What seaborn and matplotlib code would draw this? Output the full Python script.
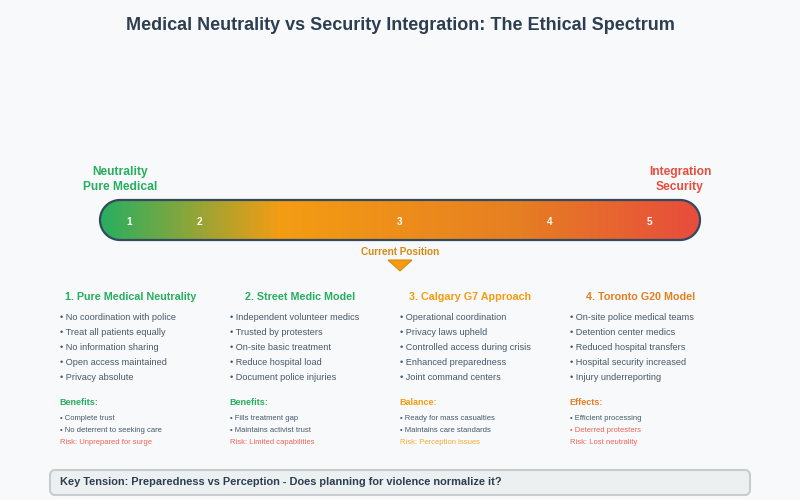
import matplotlib
matplotlib.use("Agg")
import matplotlib.pyplot as plt
from matplotlib.patches import PathPatch, Polygon
from matplotlib.path import Path
import numpy as np
import seaborn as sns

sns.set_theme(style="white")
plt.rcParams['font.family'] = ['Liberation Sans', 'DejaVu Sans']

BG = "#f8f9fa"
DARK = "#2c3e50"
BODY = "#34495e"
SOFT = "#46596b"
GREEN = "#27ae60"
ORANGE = "#f39c12"
DORANGE = "#e67e22"
RED = "#e74c3c"
SOFT_RED = "#ea6557"

title = "Medical Neutrality vs Security Integration: The Ethical Spectrum"
stop_colors = [GREEN, ORANGE, DORANGE, RED]
stop_positions = [0.0, 0.3, 0.7, 1.0]
scale_labels = ["1", "2", "3", "4", "5"]
scale_x = [129.5, 199.5, 399.5, 549.5, 649.5]

headers = ["1. Pure Medical Neutrality", "2. Street Medic Model",
           "3. Calgary G7 Approach", "4. Toronto G20 Model"]
header_colors = [GREEN, GREEN, ORANGE, DORANGE]
features = [
    ["No coordination with police", "Treat all patients equally", "No information sharing",
     "Open access maintained", "Privacy absolute"],
    ["Independent volunteer medics", "Trusted by protesters", "On-site basic treatment",
     "Reduce hospital load", "Document police injuries"],
    ["Operational coordination", "Privacy laws upheld", "Controlled access during crisis",
     "Enhanced preparedness", "Joint command centers"],
    ["On-site police medical teams", "Detention center medics", "Reduced hospital transfers",
     "Hospital security increased", "Injury underreporting"],
]
sub_heads = ["Benefits:", "Benefits:", "Balance:", "Effects:"]
sub_items = [
    ["Complete trust", "No deterrent to seeking care"],
    ["Fills treatment gap", "Maintains activist trust"],
    ["Ready for mass casualties", "Maintains care standards"],
    ["Efficient processing", "Deterred protesters"],
]
sub_item_colors = [[SOFT, SOFT], [SOFT, SOFT], [SOFT, SOFT], [SOFT, SOFT_RED]]
risks = ["Risk: Unprepared for surge", "Risk: Limited capabilities",
         "Risk: Perception issues", "Risk: Lost neutrality"]
risk_colors = [SOFT_RED, SOFT_RED, "#f5ab35", SOFT_RED]
tension = "Key Tension: Preparedness vs Perception - Does planning for violence normalize it?"

W, H = 800, 500
fig = plt.figure(figsize=(8, 5), dpi=100, facecolor=BG)
ax = fig.add_axes([0, 0, 1, 1])
ax.set_xlim(0, W)
ax.set_ylim(H, 0)
ax.axis("off")


def fs(px):
    return px * 0.72


def label(x, y, s, px, color, weight="normal", ha="left"):
    ax.text(x, y, s, fontsize=fs(px), color=color, fontweight=weight, ha=ha,
            va="baseline", zorder=5)


def round_rect(x, y, w, h, r):
    """Closed outline of a rectangle with true circular corners."""
    corners = [(x + w - r, y + r, -90), (x + w - r, y + h - r, 0),
               (x + r, y + h - r, 90), (x + r, y + r, 180)]
    pts = []
    for cx, cy, start in corners:
        t = np.radians(np.linspace(start, start + 90, 24))
        pts.extend(zip(cx + r * np.cos(t), cy + r * np.sin(t)))
    pts.append(pts[0])
    return Path(np.array(pts), closed=True)


label(400, 30, title, 18, DARK, "bold", "center")
label(120, 175, "Neutrality", 12, GREEN, "bold", "center")
label(120, 190, "Pure Medical", 12, GREEN, "bold", "center")
label(680, 175, "Integration", 12, RED, "bold", "center")
label(680, 190, "Security", 12, RED, "bold", "center")

# Gradient bar drawn as a seaborn heatmap on an axes placed over the bar
bar_ax = fig.add_axes([100 / W, 1 - 240 / H, 600 / W, 40 / H], zorder=2)
cmap = matplotlib.colors.LinearSegmentedColormap.from_list(
    "spectrum", list(zip(stop_positions, stop_colors)))
sns.heatmap(np.linspace(0, 1, 600).reshape(1, -1), cmap=cmap, vmin=0, vmax=1, cbar=False,
            ax=bar_ax, xticklabels=False, yticklabels=False, rasterized=True)
bar_ax.set_xlim(0, 600)
bar_ax.set_ylim(40, 0)
mesh = bar_ax.collections[0]
mesh.set_transform(matplotlib.transforms.Affine2D().scale(1, 40) + bar_ax.transData)
clip = PathPatch(round_rect(0, 0, 600, 40, 20), transform=bar_ax.transData,
                 facecolor="none", edgecolor="none")
bar_ax.add_patch(clip)
mesh.set_clip_path(clip)
bar_ax.axis("off")

overlay = fig.add_axes([0, 0, 1, 1], zorder=3)
overlay.set_xlim(0, W)
overlay.set_ylim(H, 0)
overlay.axis("off")
overlay.patch.set_alpha(0)
overlay.add_patch(PathPatch(round_rect(100, 200, 600, 40, 20), facecolor="none",
                            edgecolor=BODY, linewidth=1.6))
for x, s in zip(scale_x, scale_labels):
    overlay.text(x, 225, s, fontsize=fs(10), color="white", fontweight="bold", ha="center", va="baseline")

label(400, 255, "Current Position", 10, "#d68910", "bold", "center")
ax.add_patch(Polygon([(388, 260), (412, 260), (400, 271)], closed=True,
                     facecolor=ORANGE, edgecolor="#d68910", linewidth=0.8))

for i, left in enumerate([60, 230, 400, 570]):
    label(left + 70.5, 300, headers[i], 10.8, header_colors[i], "bold", "center")
    for j, item in enumerate(features[i]):
        label(left, 320 + 15 * j, "• " + item, 9.2, SOFT)
    label(left - 0.5, 405, sub_heads[i], 9, header_colors[i], "bold")
    for j, item in enumerate(sub_items[i]):
        label(left, 420 + 12 * j, "• " + item, 7.6, sub_item_colors[i][j])
    label(left, 444, risks[i], 7.6, risk_colors[i])

ax.add_patch(PathPatch(round_rect(50, 470, 700, 25, 5), facecolor="#ecf0f1",
                       edgecolor="#c6ccd0", linewidth=1.5))
label(60, 485, tension, 11, DARK, "bold")

fig.savefig("out.png", dpi=100, facecolor=BG)
